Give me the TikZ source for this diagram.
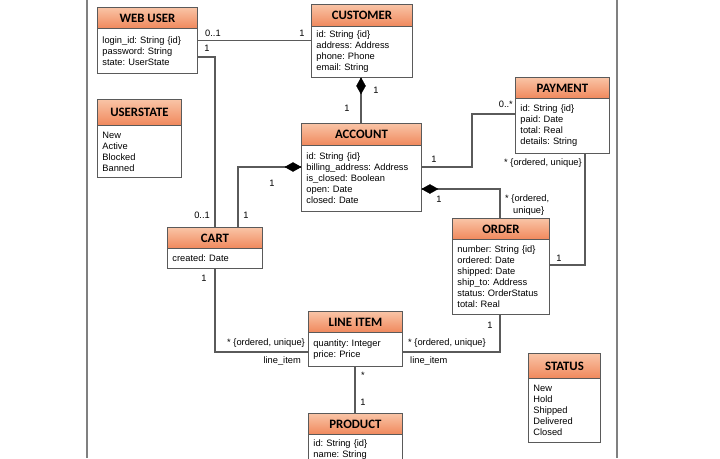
\documentclass[tikz,border=0pt]{standalone}
\usepackage{fontspec}
\setmainfont{Liberation Sans}
\newfontfamily\hdfont{Carlito}
\usetikzlibrary{calc}
\definecolor{hdtop}{RGB}{249,196,166}
\definecolor{hdbot}{RGB}{240,136,92}
\definecolor{edge}{RGB}{90,90,90}
\tikzset{
  hdr/.style={rectangle, draw=edge, line width=0.9pt, top color=hdtop, bottom color=hdbot,
    anchor=north west, inner sep=0pt, font=\hdfont\bfseries\fontsize{12.8}{14}\selectfont},
  bdy/.style={rectangle, draw=edge, line width=0.9pt, fill=white, anchor=north west,
    inner xsep=5pt, inner ysep=0pt, align=left, font=\frenchspacing\fontsize{9.3}{11}\selectfont},
  conn/.style={draw=edge, line width=1.1pt},
  lbl/.style={inner sep=0pt, font=\frenchspacing\fontsize{9.3}{11}\selectfont},
  dia/.style={fill=black, draw=black, line width=0.4pt},
  frameline/.style={draw=gray, line width=1.2pt}
}
% #1 name, #2 x, #3 ytop, #4 width, #5 header h, #6 body h, #7 title, #8 body text
\newcommand{\umlclass}[8]{%
  \node[hdr, minimum width=#4pt, minimum height=#5pt] (#1) at (#2,#3) {#7};
  \node[bdy, minimum width=#4pt, minimum height=#6pt, text width=#4pt-10pt] (#1b) at (#2,#3+#5) {#8};
}
\begin{document}
\begin{tikzpicture}[x=1pt,y=-1pt]
\useasboundingbox (0,0) rectangle (720,458);
\begin{scope}
\clip (0,0) rectangle (720,458);
% frame lines
\coordinate (fl1) at (87,0); \coordinate (fl2) at (87,458);
\coordinate (fr1) at (617,0); \coordinate (fr2) at (617,458);
\draw[frameline] (fl1) -- (fl2);
\draw[frameline] (fr1) -- (fr2);

% classes
\umlclass{wu}{97}{7}{100}{21}{45}{WEB USER}{login\_id: String \{id\}\\password: String\\state: UserState}
\umlclass{cu}{311}{4}{101}{22}{51}{CUSTOMER}{id: String \{id\}\\address: Address\\phone: Phone\\email: String}
\umlclass{us}{97}{99}{84}{26}{52}{USERSTATE}{New\\Active\\Blocked\\Banned}
\umlclass{ac}{301}{123}{120}{22}{66}{ACCOUNT}{id: String \{id\}\\billing\_address: Address\\is\_closed: Boolean\\open: Date\\closed: Date}
\umlclass{pa}{515}{77}{94}{21}{55}{PAYMENT}{id: String \{id\}\\paid: Date\\total: Real\\details: String}
\umlclass{or}{452}{218}{97}{21}{75}{ORDER}{number: String \{id\}\\ordered: Date\\shipped: Date\\ship\_to: Address\\status: OrderStatus\\total: Real}
\umlclass{ca}{167}{227}{95}{21}{20}{CART}{created: Date}
\umlclass{li}{308}{311}{94}{21}{34}{LINE ITEM}{quantity: Integer\\price: Price}
\umlclass{pr}{308}{413}{94}{21}{30}{PRODUCT}{id: String \{id\}\\name: String}
\umlclass{st}{528}{353}{72}{25}{64}{STATUS}{New\\Hold\\Shipped\\Delivered\\Closed}

% web user -- customer
\draw[conn] (wub.north east |- 0,40.7) -- (cub.north west |- 0,40.7);
\node[lbl, anchor=west] (l1) at (205,33) {0..1};
\node[lbl] (l2) at (302,33) {1};
% web user -- cart
\draw[conn] (wub.north east |- 0,57) -| (ca.north -| 215,0);
\node[lbl] (l3) at (207,48) {1};
\node[lbl, anchor=east] (l4) at (210,215) {0..1};
% customer -- account (composition)
\draw[conn] (cub.south -| 361,0) -- (ac.north -| 361,0);
\path[dia] (cub.south -| 361,0) -- ++(4.5,8) -- ++(-4.5,8) -- ++(-4.5,-8) -- cycle;
\node[lbl] (l5) at (376,90) {1};
\node[lbl] (l6) at (347,108) {1};
% account -- cart (composition at account)
\draw[conn] (acb.north west |- 0,167) -| (ca.north -| 238,0);
\path[dia] (acb.north west |- 0,167) -- ++(-8,-4.5) -- ++(-8,4.5) -- ++(8,4.5) -- cycle;
\node[lbl] (l7) at (272,183) {1};
\node[lbl] (l8) at (246,215) {1};
% account -- payment
\coordinate (ap1) at (472,167);
\coordinate (ap2) at (472,114);
\draw[conn] (acb.north east |- 0,167) -- (ap1) -- (ap2) -- (pab.north west |- 0,114);
\node[lbl] (l9) at (434,159) {1};
\node[lbl, anchor=east] (l10) at (513,104) {0..*};
% account -- order (composition at account)
\draw[conn] (acb.north east |- 0,189) -| (or.north -| 500,0);
\path[dia] (acb.north east |- 0,189) -- ++(8,-4.5) -- ++(8,4.5) -- ++(-8,4.5) -- cycle;
\node[lbl] (l11) at (439,199) {1};
\node[lbl, anchor=west] (l12) at (505,199) {* \{ordered,};
\node[lbl, anchor=west] (l13) at (513,211) {unique\}};
% payment -- order
\draw[conn] (pab.south -| 585,0) |- (orb.north east |- 0,265);
\node[lbl, anchor=west] (l14) at (504,163) {* \{ordered, unique\}};
\node[lbl] (l15) at (559,258) {1};
% cart -- line item
\draw[conn] (cab.south -| 215,0) |- (lib.north west |- 0,352);
\node[lbl] (l16) at (204,278) {1};
\node[lbl, anchor=east] (l17) at (305,343) {* \{ordered, unique\}};
\node[lbl, anchor=east] (l18) at (301,361) {line\_item};
% order -- line item
\draw[conn] (orb.south -| 500,0) |- (lib.north east |- 0,352);
\node[lbl] (l19) at (490,325) {1};
\node[lbl, anchor=west] (l20) at (408,343) {* \{ordered, unique\}};
\node[lbl, anchor=west] (l21) at (410,361) {line\_item};
% line item -- product
\draw[conn] (lib.south -| 355,0) -- (pr.north -| 355,0);
\node[lbl] (l22) at (363,375) {*};
\node[lbl] (l23) at (363,402) {1};
\end{scope}
\end{tikzpicture}
\end{document}
